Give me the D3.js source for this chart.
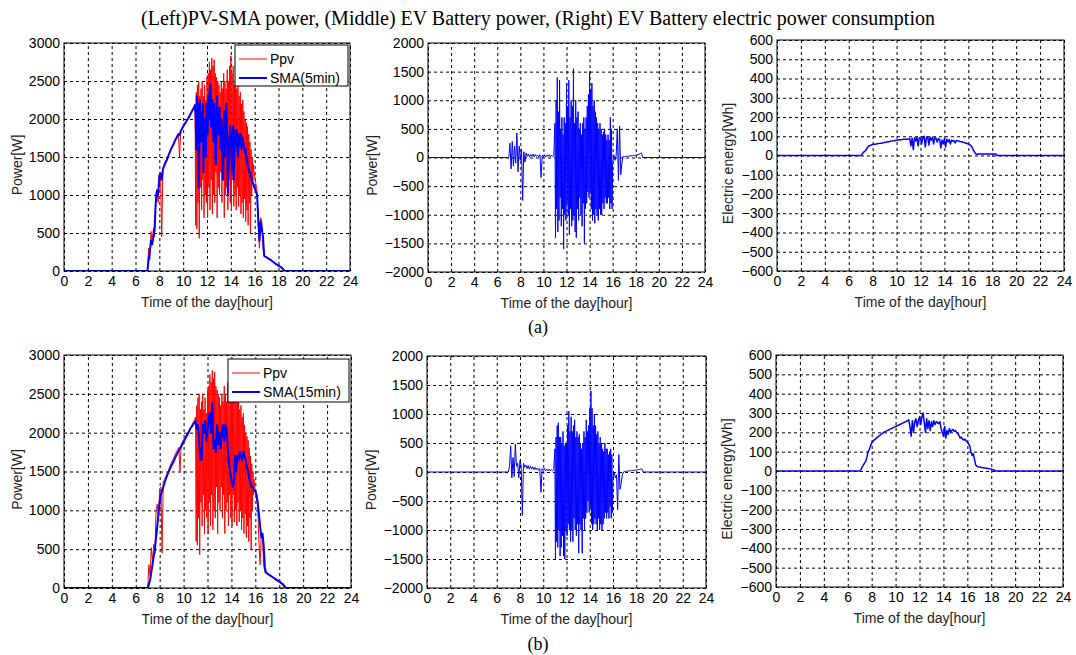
<!DOCTYPE html>
<html>
<head>
<meta charset="utf-8">
<script src="https://cdn.jsdelivr.net/npm/d3@7"></script>
<style>
    body { margin: 0; background: #fff; }
    svg text { font-family: "Liberation Sans", Arial, sans-serif; }
</style>
</head>
<body>
<svg id="chart" width="1076" height="655"></svg>
<script>
// sample spans: [first hour, step in hours, count]; zero outside the span
const coarseSpans = [[7.0, 0.1, 117]];
const fineSpans = [[7.0, 0.1, 40], [11.0, 0.05, 100], [16.0, 0.1, 27]];
const hourTicks = [0, 2, 4, 6, 8, 10, 12, 14, 16, 18, 20, 22, 24];
const pvTicks = [0, 500, 1000, 1500, 2000, 2500, 3000];
const evTicks = [-2000, -1500, -1000, -500, 0, 500, 1000, 1500, 2000];
const energyTicks = [-600, -500, -400, -300, -200, -100, 0, 100, 200, 300, 400, 500, 600];

// fine grid
const ppv = [
    0, 300, 150, 520, 350, 560, 450, 1000, 1080, 900,
    1280, 1300, 450, 1360, 1390, 1430, 1460, 1500, 1540, 1580,
    1620, 1650, 1680, 1720, 1750, 1780, 1810, 1500, 1850, 1880,
    1910, 1940, 1960, 1990, 2010, 2040, 2070, 2100, 2130, 2160,
    2200, 600, 2350, 550, 2450, 900, 2500, 430, 2300, 1100,
    2400, 800, 2500, 1200, 2300, 700, 2450, 1000, 2250, 900,
    2550, 700, 2600, 1100, 2750, 800, 2650, 1200, 2800, 750,
    2700, 1000, 2780, 900, 2600, 1300, 2550, 700, 2500, 1100,
    2450, 1000, 2350, 1300, 2500, 900, 2400, 1200, 2600, 700,
    2500, 1000, 2400, 1100, 2650, 800, 2500, 1200, 2700, 900,
    2830, 800, 2600, 1200, 2700, 850, 2450, 1000, 2500, 800,
    2400, 1100, 2500, 850, 2300, 1000, 2350, 750, 2200, 900,
    2250, 700, 2100, 950, 2000, 650, 1950, 800, 1900, 600,
    1800, 900, 1700, 500, 1600, 1000, 1500, 1200, 1400, 1300,
    1250, 1150, 1050, 600, 300, 700, 650, 300, 200, 190,
    180, 170, 160, 150, 140, 125, 115, 100, 90, 80,
    70, 60, 50, 40, 0, 20, 0
];
const sma5 = [
    0, 150, 250, 400, 350, 450, 550, 900, 1050, 1000,
    1250, 1280, 1200, 1340, 1380, 1420, 1450, 1490, 1530, 1570,
    1610, 1640, 1670, 1710, 1740, 1770, 1800, 1790, 1840, 1870,
    1900, 1930, 1950, 1980, 2000, 2030, 2060, 2090, 2120, 2150,
    2180, 2000, 1600, 2300, 1900, 2200, 1100, 1500, 2250, 1800,
    1700, 2100, 1900, 2200, 1300, 1700, 2000, 1600, 1500, 2200,
    2100, 1800, 2300, 2000, 2350, 2400, 2450, 1900, 2100, 2250,
    1900, 1700, 2200, 2000, 1500, 1400, 2000, 2300, 1800, 1900,
    1800, 2150, 1900, 1600, 2000, 1700, 1300, 1200, 1900, 2100,
    1500, 1800, 2200, 2000, 1700, 1000, 1300, 1600, 1800, 1900,
    1800, 1500, 1300, 1700, 1900, 1200, 1500, 1750, 1850, 1650,
    1850, 1600, 1500, 1800, 1750, 1650, 1700, 1800, 1600, 1700,
    1750, 1700, 1650, 1600, 1550, 1600, 1450, 1500, 1400, 1350,
    1350, 1300, 1300, 1250, 1250, 1200, 1200, 1150, 1150, 1100,
    1100, 1050, 1000, 700, 400, 650, 550, 450, 200, 190,
    180, 170, 160, 150, 140, 125, 115, 100, 90, 80,
    70, 60, 50, 40, 20, 0, 0
];
const evPowerA = [
    0, 250, -200, 280, -150, 200, -100, 430, -250, 200,
    -50, 150, -750, 100, -80, 80, 20, 60, 10, 50,
    20, 60, 10, 50, 20, 40, 10, 50, -350, 40,
    20, 50, 10, 40, 20, 50, 10, 40, 20, 30,
    600, -1400, 1000, -900, 1400, -1300, 800, -1100, 1350, -700,
    500, -1200, 700, -900, 400, -1600, 700, -1000, 600, -1100,
    1300, -800, 900, -1000, 1350, -1350, 700, -900, 1000, -1200,
    900, -1100, 1550, -1000, 600, -1300, 1000, -1400, 700, -900,
    800, -1100, 500, -700, 600, -1000, 400, -1200, 600, -800,
    700, -1500, 500, -900, 700, -800, 900, -600, 1100, -700,
    1500, -600, 1200, -900, 1300, -1100, 900, -1000, 1000, -1150,
    800, -900, 700, -1000, 600, -1100, 500, -900, 600, -1000,
    500, -1000, 400, -800, 450, -900, 500, -700, 400, -800,
    300, -800, 400, -700, 300, -900, 700, -800, 500, -900,
    -100, 50, -50, 30, 500, -400, 550, -300, -100, 20,
    10, 20, 20, 20, 25, 25, 30, 30, 35, 35,
    40, 45, 50, 60, 70, 80, 0
];
const evPowerB = [
    0, 100, 450, -100, 250, -80, 480, 100, 150, -100,
    200, 100, -750, 150, 80, 120, 60, 110, 50, 100,
    50, 90, 40, 80, 40, 70, 30, 60, -350, 60,
    30, 60, 20, 50, 20, 50, 20, 40, 20, 40,
    400, -1500, 600, -1200, 800, -1300, 850, -1000, 600, -1450,
    600, -1300, 500, -1100, 700, -1450, 450, -1500, 500, -1000,
    500, -1100, 800, -900, 1050, -1000, 700, -1200, 950, -1000,
    700, -1200, 800, -800, 900, -1000, 600, -1100, 700, -900,
    600, -1400, 650, -900, 500, -1000, 400, -1400, 500, -800,
    700, -1000, 600, -800, 900, -700, 700, -500, 800, -700,
    1100, -600, 1400, -900, 1100, -1000, 800, -900, 1000, -800,
    800, -900, 650, -1000, 700, -800, 500, -1000, 600, -900,
    500, -1000, 400, -900, 350, -800, 500, -700, 400, -800,
    400, -700, 300, -800, 350, -600, 400, -800, 300, -700,
    -100, 0, -100, -50, -650, 300, -300, -200, -50, 0,
    10, 10, 15, 15, 20, 20, 25, 25, 30, 30,
    35, 35, 40, 45, 50, 50, 0
];

// coarse grid
const sma15 = [
    0, 50, 100, 200, 300, 400, 500, 650, 800, 950, 1100,
    1200, 1250, 1300, 1350, 1400, 1440, 1480, 1510, 1550, 1580,
    1610, 1640, 1680, 1710, 1740, 1770, 1800, 1820, 1850, 1880,
    1910, 1940, 1970, 2000, 2030, 2060, 2080, 2100, 2130, 2150,
    2050, 2100, 1900, 1650, 1650, 2100, 2000, 2150, 1900, 2000,
    2200, 2250, 2000, 2380, 1800, 1900, 1750, 2100, 1850, 2000,
    1800, 2000, 2100, 1900, 2100, 2050, 1800, 1600, 1500, 1400,
    1300, 1350, 1700, 1500, 1700, 1650, 1750, 1700, 1650, 1750,
    1700, 1650, 1550, 1500, 1400, 1350, 1300, 1300, 1250, 1250,
    1200, 1100, 950, 800, 650, 700, 550, 250, 200, 185,
    175, 165, 155, 145, 135, 125, 115, 105, 95, 85,
    75, 60, 50, 30, 10, 0
];
const energyA = [
    0, 5, 15, 20, 25, 35, 45, 50, 52, 55, 57,
    58, 59, 60, 61, 62, 63, 64, 65, 66, 68,
    69, 70, 71, 72, 74, 75, 76, 77, 78, 79,
    80, 81, 82, 82, 83, 84, 84, 85, 85, 86,
    88, 50, 90, 30, 92, 75, 95, 50, 92, 90,
    60, 95, 100, 45, 95, 98, 55, 95, 80, 95,
    60, 92, 90, 70, 88, 85, 40, 80, 60, 88,
    45, 85, 70, 82, 60, 80, 75, 78, 65, 78,
    76, 75, 73, 72, 70, 68, 66, 64, 62, 60,
    56, 52, 45, 30, 20, 10, 5, 8, 8, 8,
    8, 8, 8, 8, 8, 8, 8, 8, 8, 8,
    8, 8, 8, 0, 0, 0
];
const energyB = [
    0, 5, 20, 30, 40, 50, 70, 100, 110, 130, 145,
    152, 160, 165, 170, 175, 180, 185, 190, 195, 200,
    203, 206, 209, 212, 215, 218, 221, 224, 227, 230,
    233, 236, 239, 242, 245, 248, 251, 254, 257, 260,
    265, 230, 180, 260, 200, 255, 270, 230, 260, 280,
    240, 280, 300, 250, 200, 270, 220, 260, 210, 255,
    230, 260, 240, 255, 250, 245, 255, 220, 200, 180,
    230, 170, 210, 190, 220, 200, 210, 215, 205, 210,
    200, 195, 185, 170, 175, 165, 160, 165, 155, 150,
    140, 130, 100, 80, 90, 60, 30, 25, 22, 20,
    19, 18, 17, 16, 15, 14, 13, 12, 11, 10,
    8, 5, 3, 0, 0, 0
];

const svg = d3.select('#chart');
const RED = '#ff0000';
const BLUE = '#0000ff';
let clipId = 0;

function sampleHours(spans) {
    const out = [];
    spans.forEach(([from, step, count]) => {
        for (let i = 0; i < count; i++) out.push(+(from + i * step).toFixed(3));
    });
    return out;
}
const coarseHours = sampleHours(coarseSpans);
const fineHours = sampleHours(fineSpans);

// measured span plus the flat zero line before and after it
function toPoints(values, hours) {
    const pts = [{ h: hourTicks[0], v: 0 }];
    values.forEach((v, i) => pts.push({ h: hours[i], v: v }));
    pts.push({ h: hourTicks[hourTicks.length - 1], v: 0 });
    return pts;
}

function drawPanel(cfg) {
    const w = cfg.right - cfg.left;
    const h = cfg.bottom - cfg.top;
    const g = svg.append('g').attr('transform', `translate(${cfg.left},${cfg.top})`);

    const x = d3.scaleLinear().domain([hourTicks[0], hourTicks[hourTicks.length - 1]]).range([0, w]);
    const y = d3.scaleLinear().domain([cfg.yTicks[0], cfg.yTicks[cfg.yTicks.length - 1]]).range([h, 0]);

    const gx = g.append('g')
        .attr('transform', `translate(0,${h})`)
        .call(d3.axisBottom(x).tickValues(hourTicks).tickFormat(d3.format('d')).tickSize(-h).tickPadding(5));
    const gy = g.append('g')
        .call(d3.axisLeft(y).tickValues(cfg.yTicks).tickFormat(d3.format('d')).tickSize(-w).tickPadding(4));
    [gx, gy].forEach(a => {
        a.select('.domain').remove();
        a.selectAll('.tick line').attr('stroke', '#000').attr('stroke-dasharray', '3,3');
        a.selectAll('.tick text').attr('fill', '#000').style('font-size', '14px');
    });

    const id = 'clip' + (clipId++);
    g.append('clipPath').attr('id', id)
        .append('rect').attr('width', w).attr('height', h);

    const line = d3.line().x(d => x(d.h)).y(d => y(d.v));
    cfg.series.forEach(s => {
        g.append('path')
            .attr('clip-path', `url(#${id})`)
            .attr('fill', 'none')
            .attr('stroke', s.color)
            .attr('stroke-width', s.width)
            .attr('stroke-linejoin', 'round')
            .attr('d', line(toPoints(s.values, s.hours)));
    });

    g.append('rect')
        .attr('width', w).attr('height', h)
        .attr('fill', 'none').attr('stroke', '#000');

    g.append('text')
        .attr('x', w / 2).attr('y', h + 36)
        .attr('text-anchor', 'middle')
        .attr('fill', '#222')
        .style('font-size', '14px')
        .text('Time of the day[hour]');

    g.append('text')
        .attr('transform', `translate(${-cfg.yLabelGap},${h / 2 + 8}) rotate(-90)`)
        .attr('text-anchor', 'middle')
        .attr('dy', '0.35em')
        .attr('fill', '#222')
        .style('font-size', '14px')
        .text(cfg.yLabel);

    if (cfg.legend) {
        const lg = g.append('g').attr('transform', `translate(${cfg.legend.x},${cfg.legend.y})`);
        lg.append('rect')
            .attr('width', cfg.legend.w).attr('height', cfg.legend.h)
            .attr('fill', '#fff').attr('stroke', '#000');
        cfg.series.forEach((s, i) => {
            const yy = 14 + i * 19;
            lg.append('line')
                .attr('x1', 4).attr('x2', 32).attr('y1', yy).attr('y2', yy)
                .attr('stroke', s.color).attr('stroke-width', s.width);
            lg.append('text')
                .attr('x', 35).attr('y', yy).attr('dy', '0.35em')
                .attr('fill', '#000')
                .style('font-size', '14px')
                .text(s.name);
        });
    }
}

svg.append('text')
    .attr('x', 538).attr('y', 25)
    .attr('text-anchor', 'middle')
    .style('font-family', '"Liberation Serif", "Times New Roman", serif')
    .style('font-size', '20px')
    .text('(Left)PV-SMA power, (Middle) EV Battery power, (Right) EV Battery electric power consumption');

[['(a)', 333], ['(b)', 650]].forEach(([t, yy]) => {
    svg.append('text')
        .attr('x', 538).attr('y', yy)
        .attr('text-anchor', 'middle')
        .style('font-family', '"Liberation Serif", "Times New Roman", serif')
        .style('font-size', '18px')
        .text(t);
});

// row (a)
drawPanel({
    left: 64, right: 350, top: 43, bottom: 271,
    yTicks: pvTicks, yLabel: 'Power[W]', yLabelGap: 47,
    series: [
        { name: 'Ppv', values: ppv, hours: fineHours, color: RED, width: 1 },
        { name: 'SMA(5min)', values: sma5, hours: fineHours, color: BLUE, width: 2 }
    ],
    legend: { x: 171, y: 2, w: 113, h: 41 }
});
drawPanel({
    left: 428, right: 705, top: 43, bottom: 272,
    yTicks: evTicks, yLabel: 'Power[W]', yLabelGap: 56,
    series: [{ name: 'EV', values: evPowerA, hours: fineHours, color: BLUE, width: 1 }]
});
drawPanel({
    left: 777, right: 1064, top: 40, bottom: 271,
    yTicks: energyTicks, yLabel: 'Electric energy[Wh]', yLabelGap: 49,
    series: [{ name: 'E', values: energyA, hours: coarseHours, color: BLUE, width: 1.5 }]
});

// row (b)
drawPanel({
    left: 64, right: 351, top: 355, bottom: 588,
    yTicks: pvTicks, yLabel: 'Power[W]', yLabelGap: 47,
    series: [
        { name: 'Ppv', values: ppv, hours: fineHours, color: RED, width: 1 },
        { name: 'SMA(15min)', values: sma15, hours: coarseHours, color: BLUE, width: 2 }
    ],
    legend: { x: 164, y: 4, w: 121, h: 43 }
});
drawPanel({
    left: 427, right: 706, top: 356, bottom: 588,
    yTicks: evTicks, yLabel: 'Power[W]', yLabelGap: 56,
    series: [{ name: 'EV', values: evPowerB, hours: fineHours, color: BLUE, width: 1 }]
});
drawPanel({
    left: 776, right: 1063, top: 355, bottom: 587,
    yTicks: energyTicks, yLabel: 'Electric energy[Wh]', yLabelGap: 49,
    series: [{ name: 'E', values: energyB, hours: coarseHours, color: BLUE, width: 1.5 }]
});
</script>
</body>
</html>
